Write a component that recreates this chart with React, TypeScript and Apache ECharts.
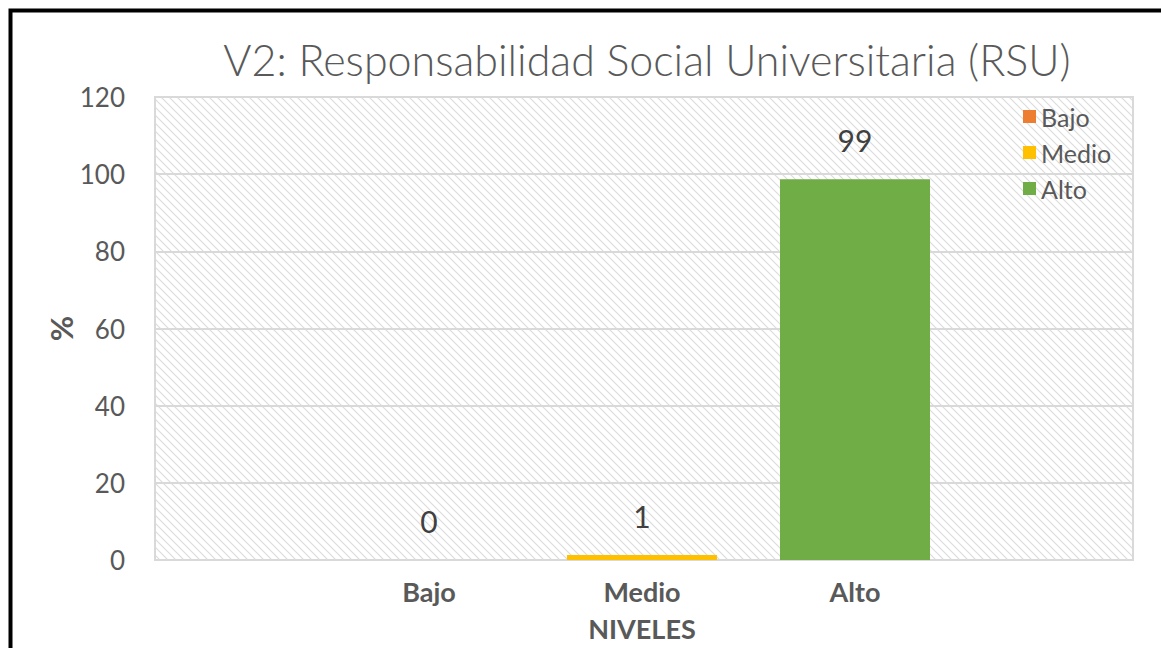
import React, { useEffect, useRef } from "react";
import * as echarts from "echarts";

const titleText = "V2: Responsabilidad Social Universitaria (RSU)";
const categories = ["Bajo", "Medio", "Alto"];
const seriesNames = ["Bajo", "Medio", "Alto"];
const values = [0, 1.3, 98.7];
const seriesColors = ["#ED7D31", "#FFC000", "#70AD47"];
const yTicks = { min: 0, max: 120, interval: 20 };
const xAxisTitle = "NIVELES";
const yAxisTitle = "%";

const FONT = "Lato, 'Open Sans', sans-serif";
const GRAY = "#595959";

function makeHatch() {
  const c = document.createElement("canvas");
  c.width = 8;
  c.height = 8;
  const ctx = c.getContext("2d")!;
  ctx.fillStyle = "#ffffff";
  ctx.fillRect(0, 0, 8, 8);
  ctx.strokeStyle = "#dcdcdc";
  ctx.lineWidth = 1.2;
  ctx.beginPath();
  ctx.moveTo(-2, -2);
  ctx.lineTo(10, 10);
  ctx.moveTo(6, -2);
  ctx.lineTo(10, 2);
  ctx.moveTo(-2, 6);
  ctx.lineTo(2, 10);
  ctx.stroke();
  return c;
}

export default function App() {
  const ref = useRef<HTMLDivElement>(null);
  useEffect(() => {
    if (!ref.current) return;
    const chart = echarts.init(ref.current, null, { renderer: "svg" });
    const hatch: any = { image: makeHatch(), repeat: "repeat", imageWidth: 8, imageHeight: 8 };
    const plotLeft = 155, plotTop = 97, plotW = 978, plotH = 463;
    const center = 642, band = 213;
    const option: any = {
      animation: false,
      backgroundColor: "#ffffff",
      title: {
        text: titleText,
        left: center,
        top: 33,
        textAlign: "center",
        textStyle: { fontFamily: FONT, fontSize: 43, fontWeight: 300, color: GRAY },
      },
      legend: {
        orient: "vertical",
        left: 1018,
        top: 99,
        itemWidth: 13,
        itemHeight: 13,
        itemGap: 11,
        icon: "rect",
        data: seriesNames,
        textStyle: { fontFamily: FONT, fontSize: 25, color: GRAY, padding: [0, 0, 0, 0] },
      },
      grid: [
        {
          left: plotLeft, top: plotTop, width: plotW, height: plotH,
          show: true, backgroundColor: hatch, borderColor: "#d9d9d9", borderWidth: 2,
        },
        { left: center - (band * 3) / 2, top: plotTop, width: band * 3, height: plotH },
      ],
      xAxis: [
        { gridIndex: 0, type: "category", data: [""], show: false },
        {
          gridIndex: 1,
          type: "category",
          data: categories,
          axisLine: { show: false },
          axisTick: { show: false },
          axisLabel: { margin: 18, fontFamily: FONT, fontSize: 27, fontWeight: "bold", color: GRAY },
          name: xAxisTitle,
          nameLocation: "middle",
          nameGap: 55,
          nameTextStyle: { fontFamily: FONT, fontSize: 27, fontWeight: "bold", color: GRAY },
        },
      ],
      yAxis: [
        {
          gridIndex: 0,
          type: "value",
          min: yTicks.min,
          max: yTicks.max,
          interval: yTicks.interval,
          axisLine: { show: false },
          axisTick: { show: false },
          splitLine: { lineStyle: { color: "#d9d9d9", width: 2 } },
          axisLabel: { margin: 30, fontFamily: FONT, fontSize: 26, color: GRAY },
          name: yAxisTitle,
          nameLocation: "middle",
          nameGap: 79,
          nameMoveOverlap: false,
          nameRotate: 90,
          nameTextStyle: { fontFamily: FONT, fontSize: 31, fontWeight: "bold", color: GRAY },
        },
        {
          gridIndex: 1, type: "value", min: yTicks.min, max: yTicks.max, interval: yTicks.interval, show: false,
        },
      ],
      graphic: [
        {
          type: "rect",
          shape: { x: 10.5, y: 10.5, width: 1300, height: 800 },
          style: { fill: "none", stroke: "#000000", lineWidth: 4 },
          z: 100,
        },
      ],
      series: seriesNames.map((name, i) => ({
        name,
        type: "bar",
        xAxisIndex: 1,
        yAxisIndex: 1,
        stack: "total",
        barWidth: 150,
        itemStyle: { color: seriesColors[i] },
        data: categories.map((_, j) => (j === i ? values[i] : "-")),
        label: {
          show: true,
          position: "top",
          distance: 24,
          fontFamily: FONT,
          fontSize: 30,
          color: "#404040",
          formatter: (p: any) => String(Math.round(p.value)),
        },
      })),
    };
    chart.setOption(option);
    return () => chart.dispose();
  }, []);
  return (
    <div
      ref={ref}
      style={{ position: "fixed", left: 0, top: 0, width: 1161, height: 648 }}
    />
  );
}
